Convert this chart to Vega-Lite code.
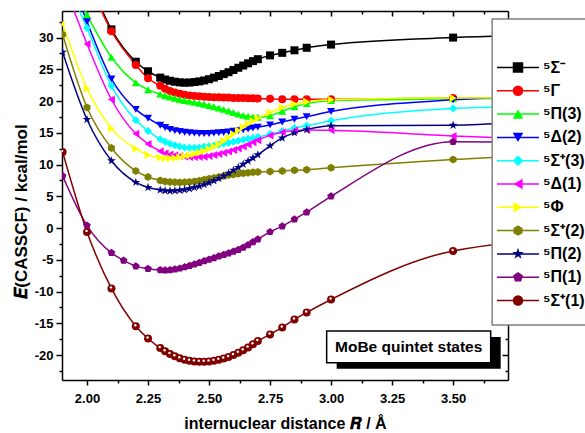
{
  "$schema": "https://vega.github.io/schema/vega-lite/v6.json",
  "width": 446,
  "height": 369,
  "autosize": {"type": "none"},
  "padding": {"left": 62, "top": 11, "right": 77, "bottom": 53},
  "background": "white",
  "config": {"view": {"stroke": null}, "font": "Liberation Sans", "axis": {"grid": false}},
  "data": {"values": [
    {"s":"⁵Σ⁻","R":2.0,"E":40.0},{"s":"⁵Σ⁻","R":2.1,"E":31.3},{"s":"⁵Σ⁻","R":2.2,"E":26.2},{"s":"⁵Σ⁻","R":2.25,"E":24.7},{"s":"⁵Σ⁻","R":2.3,"E":23.7},{"s":"⁵Σ⁻","R":2.32,"E":23.4},{"s":"⁵Σ⁻","R":2.34,"E":23.2},{"s":"⁵Σ⁻","R":2.36,"E":23.05},{"s":"⁵Σ⁻","R":2.38,"E":22.95},{"s":"⁵Σ⁻","R":2.4,"E":22.9},{"s":"⁵Σ⁻","R":2.42,"E":22.92},{"s":"⁵Σ⁻","R":2.44,"E":23.0},{"s":"⁵Σ⁻","R":2.46,"E":23.1},{"s":"⁵Σ⁻","R":2.48,"E":23.25},{"s":"⁵Σ⁻","R":2.5,"E":23.45},{"s":"⁵Σ⁻","R":2.52,"E":23.7},{"s":"⁵Σ⁻","R":2.54,"E":23.95},{"s":"⁵Σ⁻","R":2.56,"E":24.25},{"s":"⁵Σ⁻","R":2.58,"E":24.55},{"s":"⁵Σ⁻","R":2.6,"E":24.9},{"s":"⁵Σ⁻","R":2.62,"E":25.25},{"s":"⁵Σ⁻","R":2.64,"E":25.6},{"s":"⁵Σ⁻","R":2.66,"E":25.95},{"s":"⁵Σ⁻","R":2.68,"E":26.3},{"s":"⁵Σ⁻","R":2.7,"E":26.6},{"s":"⁵Σ⁻","R":2.75,"E":27.2},{"s":"⁵Σ⁻","R":2.8,"E":27.6},{"s":"⁵Σ⁻","R":2.85,"E":28.0},{"s":"⁵Σ⁻","R":2.9,"E":28.4},{"s":"⁵Σ⁻","R":3.0,"E":28.9},{"s":"⁵Σ⁻","R":3.5,"E":30.0},{"s":"⁵Σ⁻","R":4.0,"E":30.4},
    {"s":"⁵Γ","R":2.0,"E":39.5},{"s":"⁵Γ","R":2.1,"E":31.0},{"s":"⁵Γ","R":2.2,"E":25.7},{"s":"⁵Γ","R":2.25,"E":23.6},{"s":"⁵Γ","R":2.3,"E":22.4},{"s":"⁵Γ","R":2.32,"E":21.95},{"s":"⁵Γ","R":2.34,"E":21.6},{"s":"⁵Γ","R":2.36,"E":21.35},{"s":"⁵Γ","R":2.38,"E":21.15},{"s":"⁵Γ","R":2.4,"E":21.0},{"s":"⁵Γ","R":2.42,"E":20.9},{"s":"⁵Γ","R":2.44,"E":20.8},{"s":"⁵Γ","R":2.46,"E":20.75},{"s":"⁵Γ","R":2.48,"E":20.7},{"s":"⁵Γ","R":2.5,"E":20.65},{"s":"⁵Γ","R":2.52,"E":20.6},{"s":"⁵Γ","R":2.54,"E":20.6},{"s":"⁵Γ","R":2.56,"E":20.55},{"s":"⁵Γ","R":2.58,"E":20.55},{"s":"⁵Γ","R":2.6,"E":20.5},{"s":"⁵Γ","R":2.62,"E":20.5},{"s":"⁵Γ","R":2.64,"E":20.5},{"s":"⁵Γ","R":2.66,"E":20.45},{"s":"⁵Γ","R":2.68,"E":20.45},{"s":"⁵Γ","R":2.7,"E":20.4},{"s":"⁵Γ","R":2.75,"E":20.35},{"s":"⁵Γ","R":2.8,"E":20.3},{"s":"⁵Γ","R":2.85,"E":20.3},{"s":"⁵Γ","R":2.9,"E":20.3},{"s":"⁵Γ","R":3.0,"E":20.3},{"s":"⁵Γ","R":3.5,"E":20.5},{"s":"⁵Γ","R":4.0,"E":20.6},
    {"s":"⁵Π(3)","R":1.9,"E":41.5},{"s":"⁵Π(3)","R":2.0,"E":33.6},{"s":"⁵Π(3)","R":2.1,"E":26.9},{"s":"⁵Π(3)","R":2.2,"E":22.9},{"s":"⁵Π(3)","R":2.25,"E":21.8},{"s":"⁵Π(3)","R":2.3,"E":21.1},{"s":"⁵Π(3)","R":2.32,"E":20.85},{"s":"⁵Π(3)","R":2.34,"E":20.65},{"s":"⁵Π(3)","R":2.36,"E":20.45},{"s":"⁵Π(3)","R":2.38,"E":20.25},{"s":"⁵Π(3)","R":2.4,"E":20.1},{"s":"⁵Π(3)","R":2.42,"E":19.95},{"s":"⁵Π(3)","R":2.44,"E":19.8},{"s":"⁵Π(3)","R":2.46,"E":19.65},{"s":"⁵Π(3)","R":2.48,"E":19.5},{"s":"⁵Π(3)","R":2.5,"E":19.3},{"s":"⁵Π(3)","R":2.52,"E":19.1},{"s":"⁵Π(3)","R":2.54,"E":18.9},{"s":"⁵Π(3)","R":2.56,"E":18.7},{"s":"⁵Π(3)","R":2.58,"E":18.45},{"s":"⁵Π(3)","R":2.6,"E":18.2},{"s":"⁵Π(3)","R":2.62,"E":17.95},{"s":"⁵Π(3)","R":2.64,"E":17.75},{"s":"⁵Π(3)","R":2.66,"E":17.6},{"s":"⁵Π(3)","R":2.68,"E":17.5},{"s":"⁵Π(3)","R":2.7,"E":17.45},{"s":"⁵Π(3)","R":2.75,"E":17.7},{"s":"⁵Π(3)","R":2.8,"E":18.4},{"s":"⁵Π(3)","R":2.85,"E":19.1},{"s":"⁵Π(3)","R":2.9,"E":19.6},{"s":"⁵Π(3)","R":3.0,"E":20.1},{"s":"⁵Π(3)","R":3.5,"E":20.35},{"s":"⁵Π(3)","R":4.0,"E":20.5},
    {"s":"⁵Δ(2)","R":1.9,"E":43.0},{"s":"⁵Δ(2)","R":2.0,"E":32.5},{"s":"⁵Δ(2)","R":2.1,"E":23.5},{"s":"⁵Δ(2)","R":2.2,"E":18.7},{"s":"⁵Δ(2)","R":2.25,"E":17.3},{"s":"⁵Δ(2)","R":2.3,"E":16.2},{"s":"⁵Δ(2)","R":2.32,"E":15.85},{"s":"⁵Δ(2)","R":2.34,"E":15.55},{"s":"⁵Δ(2)","R":2.36,"E":15.35},{"s":"⁵Δ(2)","R":2.38,"E":15.2},{"s":"⁵Δ(2)","R":2.4,"E":15.1},{"s":"⁵Δ(2)","R":2.42,"E":15.0},{"s":"⁵Δ(2)","R":2.44,"E":14.95},{"s":"⁵Δ(2)","R":2.46,"E":14.9},{"s":"⁵Δ(2)","R":2.48,"E":14.9},{"s":"⁵Δ(2)","R":2.5,"E":14.9},{"s":"⁵Δ(2)","R":2.52,"E":14.95},{"s":"⁵Δ(2)","R":2.54,"E":15.0},{"s":"⁵Δ(2)","R":2.56,"E":15.05},{"s":"⁵Δ(2)","R":2.58,"E":15.15},{"s":"⁵Δ(2)","R":2.6,"E":15.25},{"s":"⁵Δ(2)","R":2.62,"E":15.35},{"s":"⁵Δ(2)","R":2.64,"E":15.5},{"s":"⁵Δ(2)","R":2.66,"E":15.6},{"s":"⁵Δ(2)","R":2.68,"E":15.75},{"s":"⁵Δ(2)","R":2.7,"E":15.9},{"s":"⁵Δ(2)","R":2.75,"E":16.25},{"s":"⁵Δ(2)","R":2.8,"E":16.7},{"s":"⁵Δ(2)","R":2.85,"E":17.15},{"s":"⁵Δ(2)","R":2.9,"E":17.55},{"s":"⁵Δ(2)","R":3.0,"E":18.35},{"s":"⁵Δ(2)","R":3.5,"E":20.2},{"s":"⁵Δ(2)","R":4.0,"E":20.9},
    {"s":"⁵Σ⁺(3)","R":1.9,"E":40.0},{"s":"⁵Σ⁺(3)","R":2.0,"E":31.5},{"s":"⁵Σ⁺(3)","R":2.1,"E":22.4},{"s":"⁵Σ⁺(3)","R":2.2,"E":17.0},{"s":"⁵Σ⁺(3)","R":2.25,"E":15.3},{"s":"⁵Σ⁺(3)","R":2.3,"E":14.0},{"s":"⁵Σ⁺(3)","R":2.32,"E":13.6},{"s":"⁵Σ⁺(3)","R":2.34,"E":13.3},{"s":"⁵Σ⁺(3)","R":2.36,"E":13.05},{"s":"⁵Σ⁺(3)","R":2.38,"E":12.85},{"s":"⁵Σ⁺(3)","R":2.4,"E":12.7},{"s":"⁵Σ⁺(3)","R":2.42,"E":12.65},{"s":"⁵Σ⁺(3)","R":2.44,"E":12.65},{"s":"⁵Σ⁺(3)","R":2.46,"E":12.7},{"s":"⁵Σ⁺(3)","R":2.48,"E":12.8},{"s":"⁵Σ⁺(3)","R":2.5,"E":12.9},{"s":"⁵Σ⁺(3)","R":2.52,"E":13.0},{"s":"⁵Σ⁺(3)","R":2.54,"E":13.15},{"s":"⁵Σ⁺(3)","R":2.56,"E":13.3},{"s":"⁵Σ⁺(3)","R":2.58,"E":13.45},{"s":"⁵Σ⁺(3)","R":2.6,"E":13.6},{"s":"⁵Σ⁺(3)","R":2.62,"E":13.75},{"s":"⁵Σ⁺(3)","R":2.64,"E":13.9},{"s":"⁵Σ⁺(3)","R":2.66,"E":14.05},{"s":"⁵Σ⁺(3)","R":2.68,"E":14.2},{"s":"⁵Σ⁺(3)","R":2.7,"E":14.35},{"s":"⁵Σ⁺(3)","R":2.75,"E":14.8},{"s":"⁵Σ⁺(3)","R":2.8,"E":15.3},{"s":"⁵Σ⁺(3)","R":2.85,"E":15.75},{"s":"⁵Σ⁺(3)","R":2.9,"E":16.1},{"s":"⁵Σ⁺(3)","R":3.0,"E":16.9},{"s":"⁵Σ⁺(3)","R":3.5,"E":18.85},{"s":"⁵Σ⁺(3)","R":4.0,"E":19.3},
    {"s":"⁵Δ(1)","R":1.9,"E":39.0},{"s":"⁵Δ(1)","R":2.0,"E":29.0},{"s":"⁵Δ(1)","R":2.1,"E":20.25},{"s":"⁵Δ(1)","R":2.2,"E":14.85},{"s":"⁵Δ(1)","R":2.25,"E":13.25},{"s":"⁵Δ(1)","R":2.3,"E":12.1},{"s":"⁵Δ(1)","R":2.32,"E":11.8},{"s":"⁵Δ(1)","R":2.34,"E":11.6},{"s":"⁵Δ(1)","R":2.36,"E":11.45},{"s":"⁵Δ(1)","R":2.38,"E":11.35},{"s":"⁵Δ(1)","R":2.4,"E":11.25},{"s":"⁵Δ(1)","R":2.42,"E":11.2},{"s":"⁵Δ(1)","R":2.44,"E":11.2},{"s":"⁵Δ(1)","R":2.46,"E":11.2},{"s":"⁵Δ(1)","R":2.48,"E":11.25},{"s":"⁵Δ(1)","R":2.5,"E":11.35},{"s":"⁵Δ(1)","R":2.52,"E":11.5},{"s":"⁵Δ(1)","R":2.54,"E":11.65},{"s":"⁵Δ(1)","R":2.56,"E":11.85},{"s":"⁵Δ(1)","R":2.58,"E":12.05},{"s":"⁵Δ(1)","R":2.6,"E":12.3},{"s":"⁵Δ(1)","R":2.62,"E":12.55},{"s":"⁵Δ(1)","R":2.64,"E":12.85},{"s":"⁵Δ(1)","R":2.66,"E":13.15},{"s":"⁵Δ(1)","R":2.68,"E":13.5},{"s":"⁵Δ(1)","R":2.7,"E":13.85},{"s":"⁵Δ(1)","R":2.75,"E":14.6},{"s":"⁵Δ(1)","R":2.8,"E":15.1},{"s":"⁵Δ(1)","R":2.85,"E":15.35},{"s":"⁵Δ(1)","R":2.9,"E":15.45},{"s":"⁵Δ(1)","R":3.0,"E":15.4},{"s":"⁵Δ(1)","R":3.5,"E":14.5},{"s":"⁵Δ(1)","R":4.0,"E":13.8},
    {"s":"⁵Φ","R":1.9,"E":32.2},{"s":"⁵Φ","R":2.0,"E":22.0},{"s":"⁵Φ","R":2.1,"E":15.7},{"s":"⁵Φ","R":2.2,"E":12.5},{"s":"⁵Φ","R":2.25,"E":11.5},{"s":"⁵Φ","R":2.3,"E":11.1},{"s":"⁵Φ","R":2.32,"E":11.0},{"s":"⁵Φ","R":2.34,"E":11.0},{"s":"⁵Φ","R":2.36,"E":11.05},{"s":"⁵Φ","R":2.38,"E":11.15},{"s":"⁵Φ","R":2.4,"E":11.3},{"s":"⁵Φ","R":2.42,"E":11.45},{"s":"⁵Φ","R":2.44,"E":11.65},{"s":"⁵Φ","R":2.46,"E":11.9},{"s":"⁵Φ","R":2.48,"E":12.15},{"s":"⁵Φ","R":2.5,"E":12.45},{"s":"⁵Φ","R":2.52,"E":12.8},{"s":"⁵Φ","R":2.54,"E":13.2},{"s":"⁵Φ","R":2.56,"E":13.7},{"s":"⁵Φ","R":2.58,"E":14.25},{"s":"⁵Φ","R":2.6,"E":14.8},{"s":"⁵Φ","R":2.62,"E":15.35},{"s":"⁵Φ","R":2.64,"E":15.9},{"s":"⁵Φ","R":2.66,"E":16.4},{"s":"⁵Φ","R":2.68,"E":16.85},{"s":"⁵Φ","R":2.7,"E":17.3},{"s":"⁵Φ","R":2.75,"E":18.2},{"s":"⁵Φ","R":2.8,"E":19.0},{"s":"⁵Φ","R":2.85,"E":19.55},{"s":"⁵Φ","R":2.9,"E":19.9},{"s":"⁵Φ","R":3.0,"E":20.2},{"s":"⁵Φ","R":3.5,"E":20.5},{"s":"⁵Φ","R":4.0,"E":20.6},
    {"s":"⁵Σ⁺(2)","R":1.9,"E":30.5},{"s":"⁵Σ⁺(2)","R":2.0,"E":19.0},{"s":"⁵Σ⁺(2)","R":2.1,"E":12.6},{"s":"⁵Σ⁺(2)","R":2.2,"E":9.0},{"s":"⁵Σ⁺(2)","R":2.25,"E":8.05},{"s":"⁵Σ⁺(2)","R":2.3,"E":7.5},{"s":"⁵Σ⁺(2)","R":2.32,"E":7.35},{"s":"⁵Σ⁺(2)","R":2.34,"E":7.25},{"s":"⁵Σ⁺(2)","R":2.36,"E":7.2},{"s":"⁵Σ⁺(2)","R":2.38,"E":7.18},{"s":"⁵Σ⁺(2)","R":2.4,"E":7.2},{"s":"⁵Σ⁺(2)","R":2.42,"E":7.25},{"s":"⁵Σ⁺(2)","R":2.44,"E":7.35},{"s":"⁵Σ⁺(2)","R":2.46,"E":7.45},{"s":"⁵Σ⁺(2)","R":2.48,"E":7.6},{"s":"⁵Σ⁺(2)","R":2.5,"E":7.75},{"s":"⁵Σ⁺(2)","R":2.52,"E":7.9},{"s":"⁵Σ⁺(2)","R":2.54,"E":8.05},{"s":"⁵Σ⁺(2)","R":2.56,"E":8.2},{"s":"⁵Σ⁺(2)","R":2.58,"E":8.35},{"s":"⁵Σ⁺(2)","R":2.6,"E":8.45},{"s":"⁵Σ⁺(2)","R":2.62,"E":8.55},{"s":"⁵Σ⁺(2)","R":2.64,"E":8.65},{"s":"⁵Σ⁺(2)","R":2.66,"E":8.72},{"s":"⁵Σ⁺(2)","R":2.68,"E":8.78},{"s":"⁵Σ⁺(2)","R":2.7,"E":8.83},{"s":"⁵Σ⁺(2)","R":2.75,"E":8.9},{"s":"⁵Σ⁺(2)","R":2.8,"E":9.0},{"s":"⁵Σ⁺(2)","R":2.85,"E":9.1},{"s":"⁵Σ⁺(2)","R":2.9,"E":9.2},{"s":"⁵Σ⁺(2)","R":3.0,"E":9.5},{"s":"⁵Σ⁺(2)","R":3.5,"E":10.8},{"s":"⁵Σ⁺(2)","R":4.0,"E":11.7},
    {"s":"⁵Π(2)","R":1.9,"E":27.7},{"s":"⁵Π(2)","R":2.0,"E":17.1},{"s":"⁵Π(2)","R":2.1,"E":10.6},{"s":"⁵Π(2)","R":2.2,"E":7.2},{"s":"⁵Π(2)","R":2.25,"E":6.4},{"s":"⁵Π(2)","R":2.3,"E":6.0},{"s":"⁵Π(2)","R":2.32,"E":5.88},{"s":"⁵Π(2)","R":2.34,"E":5.85},{"s":"⁵Π(2)","R":2.36,"E":5.88},{"s":"⁵Π(2)","R":2.38,"E":5.95},{"s":"⁵Π(2)","R":2.4,"E":6.05},{"s":"⁵Π(2)","R":2.42,"E":6.2},{"s":"⁵Π(2)","R":2.44,"E":6.4},{"s":"⁵Π(2)","R":2.46,"E":6.6},{"s":"⁵Π(2)","R":2.48,"E":6.85},{"s":"⁵Π(2)","R":2.5,"E":7.15},{"s":"⁵Π(2)","R":2.52,"E":7.45},{"s":"⁵Π(2)","R":2.54,"E":7.8},{"s":"⁵Π(2)","R":2.56,"E":8.2},{"s":"⁵Π(2)","R":2.58,"E":8.65},{"s":"⁵Π(2)","R":2.6,"E":9.1},{"s":"⁵Π(2)","R":2.62,"E":9.55},{"s":"⁵Π(2)","R":2.64,"E":10.05},{"s":"⁵Π(2)","R":2.66,"E":10.55},{"s":"⁵Π(2)","R":2.68,"E":11.05},{"s":"⁵Π(2)","R":2.7,"E":11.55},{"s":"⁵Π(2)","R":2.75,"E":12.95},{"s":"⁵Π(2)","R":2.8,"E":14.2},{"s":"⁵Π(2)","R":2.85,"E":15.0},{"s":"⁵Π(2)","R":2.9,"E":15.5},{"s":"⁵Π(2)","R":3.0,"E":16.1},{"s":"⁵Π(2)","R":3.5,"E":16.2},{"s":"⁵Π(2)","R":4.0,"E":17.4},
    {"s":"⁵Π(1)","R":1.9,"E":8.2},{"s":"⁵Π(1)","R":2.0,"E":0.4},{"s":"⁵Π(1)","R":2.1,"E":-3.9},{"s":"⁵Π(1)","R":2.15,"E":-5.1},{"s":"⁵Π(1)","R":2.2,"E":-6.0},{"s":"⁵Π(1)","R":2.25,"E":-6.4},{"s":"⁵Π(1)","R":2.3,"E":-6.6},{"s":"⁵Π(1)","R":2.32,"E":-6.65},{"s":"⁵Π(1)","R":2.34,"E":-6.6},{"s":"⁵Π(1)","R":2.36,"E":-6.5},{"s":"⁵Π(1)","R":2.38,"E":-6.35},{"s":"⁵Π(1)","R":2.4,"E":-6.15},{"s":"⁵Π(1)","R":2.42,"E":-5.95},{"s":"⁵Π(1)","R":2.44,"E":-5.7},{"s":"⁵Π(1)","R":2.46,"E":-5.45},{"s":"⁵Π(1)","R":2.48,"E":-5.2},{"s":"⁵Π(1)","R":2.5,"E":-4.95},{"s":"⁵Π(1)","R":2.52,"E":-4.7},{"s":"⁵Π(1)","R":2.54,"E":-4.45},{"s":"⁵Π(1)","R":2.56,"E":-4.2},{"s":"⁵Π(1)","R":2.58,"E":-3.95},{"s":"⁵Π(1)","R":2.6,"E":-3.7},{"s":"⁵Π(1)","R":2.62,"E":-3.4},{"s":"⁵Π(1)","R":2.64,"E":-3.05},{"s":"⁵Π(1)","R":2.66,"E":-2.65},{"s":"⁵Π(1)","R":2.68,"E":-2.2},{"s":"⁵Π(1)","R":2.7,"E":-1.75},{"s":"⁵Π(1)","R":2.75,"E":-0.6},{"s":"⁵Π(1)","R":2.8,"E":0.3},{"s":"⁵Π(1)","R":2.85,"E":1.4},{"s":"⁵Π(1)","R":2.9,"E":2.5},{"s":"⁵Π(1)","R":3.0,"E":5.0},{"s":"⁵Π(1)","R":3.5,"E":13.6},{"s":"⁵Π(1)","R":4.0,"E":13.4},
    {"s":"⁵Σ⁺(1)","R":1.9,"E":12.0},{"s":"⁵Σ⁺(1)","R":2.0,"E":-0.6},{"s":"⁵Σ⁺(1)","R":2.1,"E":-9.5},{"s":"⁵Σ⁺(1)","R":2.2,"E":-15.45},{"s":"⁵Σ⁺(1)","R":2.25,"E":-17.4},{"s":"⁵Σ⁺(1)","R":2.3,"E":-18.9},{"s":"⁵Σ⁺(1)","R":2.32,"E":-19.4},{"s":"⁵Σ⁺(1)","R":2.34,"E":-19.85},{"s":"⁵Σ⁺(1)","R":2.36,"E":-20.2},{"s":"⁵Σ⁺(1)","R":2.38,"E":-20.5},{"s":"⁵Σ⁺(1)","R":2.4,"E":-20.75},{"s":"⁵Σ⁺(1)","R":2.42,"E":-20.9},{"s":"⁵Σ⁺(1)","R":2.44,"E":-21.0},{"s":"⁵Σ⁺(1)","R":2.46,"E":-21.05},{"s":"⁵Σ⁺(1)","R":2.48,"E":-21.05},{"s":"⁵Σ⁺(1)","R":2.5,"E":-21.0},{"s":"⁵Σ⁺(1)","R":2.52,"E":-20.9},{"s":"⁵Σ⁺(1)","R":2.54,"E":-20.75},{"s":"⁵Σ⁺(1)","R":2.56,"E":-20.55},{"s":"⁵Σ⁺(1)","R":2.58,"E":-20.3},{"s":"⁵Σ⁺(1)","R":2.6,"E":-20.0},{"s":"⁵Σ⁺(1)","R":2.62,"E":-19.65},{"s":"⁵Σ⁺(1)","R":2.64,"E":-19.25},{"s":"⁵Σ⁺(1)","R":2.66,"E":-18.8},{"s":"⁵Σ⁺(1)","R":2.68,"E":-18.3},{"s":"⁵Σ⁺(1)","R":2.7,"E":-17.8},{"s":"⁵Σ⁺(1)","R":2.75,"E":-16.75},{"s":"⁵Σ⁺(1)","R":2.8,"E":-15.65},{"s":"⁵Σ⁺(1)","R":2.85,"E":-14.4},{"s":"⁵Σ⁺(1)","R":2.9,"E":-13.3},{"s":"⁵Σ⁺(1)","R":3.0,"E":-11.25},{"s":"⁵Σ⁺(1)","R":3.5,"E":-3.6},{"s":"⁵Σ⁺(1)","R":4.0,"E":-1.7}
  ]},
  "layer": [
    {
      "mark": {"type": "line", "interpolate": "monotone", "strokeWidth": 1.5, "clip": true},
      "encoding": {
        "x": {
          "field": "R", "type": "quantitative",
          "scale": {"domain": [1.8975, 3.725], "nice": false, "zero": false},
          "axis": {
            "orient": "bottom",
            "values": [2.0, 2.125, 2.25, 2.375, 2.5, 2.625, 2.75, 2.875, 3.0, 3.125, 3.25, 3.375, 3.5, 3.625],
            "labelExpr": "abs(datum.value*4 - round(datum.value*4)) < 0.001 ? format(datum.value, '.2f') : ''",
            "tickSize": {"condition": {"test": "abs(datum.value*4 - round(datum.value*4)) < 0.001", "value": 5}, "value": 3},
            "tickWidth": 1.5, "tickColor": "black",
            "domainColor": "black", "domainWidth": 1.5,
            "labelFont": "Liberation Sans", "labelFontSize": 13, "labelFontWeight": "bold", "labelColor": "black",
            "labelPadding": 7, "labelFlush": false, "labelOverlap": false,
            "title": "internuclear distance 𝑹 / Å",
            "titleFont": "Liberation Sans", "titleFontSize": 16, "titleFontWeight": "bold", "titleColor": "black",
            "titlePadding": 10
          }
        },
        "y": {
          "field": "E", "type": "quantitative",
          "scale": {"domain": [-23.93, 34.19], "nice": false, "zero": false},
          "axis": {
            "orient": "left",
            "values": [-22.5, -20, -17.5, -15, -12.5, -10, -7.5, -5, -2.5, 0, 2.5, 5, 7.5, 10, 12.5, 15, 17.5, 20, 22.5, 25, 27.5, 30, 32.5],
            "labelExpr": "abs(datum.value/5 - round(datum.value/5)) < 0.001 ? replace(format(datum.value, 'd'), '−', '-') : ''",
            "tickSize": {"condition": {"test": "abs(datum.value/5 - round(datum.value/5)) < 0.001", "value": 6}, "value": 3},
            "tickWidth": 1.5, "tickColor": "black",
            "domainColor": "black", "domainWidth": 1.5,
            "labelFont": "Liberation Sans", "labelFontSize": 13, "labelFontWeight": "bold", "labelColor": "black",
            "labelPadding": 3, "labelFlush": false, "labelOverlap": false,
            "title": "𝑬(CASSCF) / kcal/mol",
            "titleFont": "Liberation Sans", "titleFontSize": 17, "titleFontWeight": "bold", "titleColor": "black",
            "titlePadding": 4, "titleY": 200
          }
        },
        "stroke": {
          "field": "s", "type": "nominal",
          "scale": {
            "domain": ["⁵Σ⁻", "⁵Γ", "⁵Π(3)", "⁵Δ(2)", "⁵Σ⁺(3)", "⁵Δ(1)", "⁵Φ", "⁵Σ⁺(2)", "⁵Π(2)", "⁵Π(1)", "⁵Σ⁺(1)"],
            "range": ["#000000", "#ff0000", "#00ff00", "#0000ff", "#00ffff", "#ff00ff", "#ffff00", "#808000", "#000080", "#800080", "#800000"]
          },
          "legend": {
            "title": null, "orient": "none", "legendX": 434, "legendY": 48.5,
            "padding": 0, "rowPadding": 7.3,
            "symbolType": "M-3.5,0L3.5,0", "symbolSize": 144, "symbolStrokeWidth": 1.5, "symbolOffset": 14,
            "labelOffset": 17, "labelFont": "Liberation Sans", "labelFontSize": 16, "labelFontWeight": "bold", "labelColor": "black",
            "labelLimit": 200
          }
        },
        "order": {"field": "R", "type": "quantitative"}
      }
    },
    {
      "mark": {"type": "point", "filled": true, "opacity": 1, "size": 64, "strokeWidth": 0, "clip": true},
      "encoding": {
        "x": {
          "field": "R", "type": "quantitative",
          "axis": {
            "orient": "top",
            "values": [2.0, 2.125, 2.25, 2.375, 2.5, 2.625, 2.75, 2.875, 3.0, 3.125, 3.25, 3.375, 3.5, 3.625],
            "labels": false, "title": null,
            "tickSize": {"condition": {"test": "abs(datum.value*4 - round(datum.value*4)) < 0.001", "value": -5}, "value": -3},
            "tickWidth": 1.5, "tickColor": "black",
            "domainColor": "black", "domainWidth": 1.5
          }
        },
        "y": {
          "field": "E", "type": "quantitative",
          "axis": {
            "orient": "right",
            "values": [-22.5, -20, -17.5, -15, -12.5, -10, -7.5, -5, -2.5, 0, 2.5, 5, 7.5, 10, 12.5, 15, 17.5, 20, 22.5, 25, 27.5, 30, 32.5],
            "labels": false, "title": null,
            "tickSize": {"condition": {"test": "abs(datum.value/5 - round(datum.value/5)) < 0.001", "value": -6}, "value": -3},
            "tickWidth": 1.5, "tickColor": "black",
            "domainColor": "black", "domainWidth": 1.5
          }
        },
        "color": {
          "field": "s", "type": "nominal",
          "scale": {
            "domain": ["⁵Σ⁻", "⁵Γ", "⁵Π(3)", "⁵Δ(2)", "⁵Σ⁺(3)", "⁵Δ(1)", "⁵Φ", "⁵Σ⁺(2)", "⁵Π(2)", "⁵Π(1)", "⁵Σ⁺(1)"],
            "range": ["#000000", "#ff0000", "#00ff00", "#0000ff", "#00ffff", "#ff00ff", "#ffff00", "#808000", "#000080", "#800080", "#800000"]
          },
          "legend": {
            "title": null, "orient": "none", "legendX": 434, "legendY": 48.5,
            "padding": 0, "rowPadding": 7.3,
            "symbolSize": 110, "symbolStrokeWidth": 0, "symbolOffset": 14,
            "labelOffset": 17, "labelFont": "Liberation Sans", "labelFontSize": 16, "labelFontWeight": "bold", "labelOpacity": 0,
            "labelLimit": 200
          }
        },
        "shape": {
          "field": "s", "type": "nominal",
          "scale": {
            "domain": ["⁵Σ⁻", "⁵Γ", "⁵Π(3)", "⁵Δ(2)", "⁵Σ⁺(3)", "⁵Δ(1)", "⁵Φ", "⁵Σ⁺(2)", "⁵Π(2)", "⁵Π(1)", "⁵Σ⁺(1)"],
            "range": [
              "square", "circle", "triangle-up", "triangle-down", "diamond", "triangle-left", "triangle-right",
              "M0,-1L0.87,-0.5L0.87,0.5L0,1L-0.87,0.5L-0.87,-0.5Z",
              "M0,-1.15L0.26,-0.36L1.1,-0.36L0.42,0.14L0.68,0.93L0,0.44L-0.68,0.93L-0.42,0.14L-1.1,-0.36L-0.26,-0.36Z",
              "M0,-1L0.951,-0.309L0.588,0.809L-0.588,0.809L-0.951,-0.309Z",
              "circle"
            ]
          },
          "legend": {
            "title": null, "orient": "none", "legendX": 434, "legendY": 48.5,
            "padding": 0, "rowPadding": 7.3,
            "symbolSize": 110, "symbolStrokeWidth": 0, "symbolOffset": 14,
            "labelOffset": 17, "labelFont": "Liberation Sans", "labelFontSize": 16, "labelFontWeight": "bold", "labelOpacity": 0,
            "labelLimit": 200
          }
        }
      }
    },
    {
      "transform": [{"filter": {"field": "s", "equal": "⁵Σ⁺(1)"}}],
      "mark": {"type": "point", "shape": "circle", "filled": true, "opacity": 1, "size": 6, "color": "white", "xOffset": -0.5, "yOffset": -1, "clip": true},
      "encoding": {
        "x": {"field": "R", "type": "quantitative", "axis": null},
        "y": {"field": "E", "type": "quantitative", "axis": null}
      }
    },
    {
      "data": {"values": [{}]},
      "mark": {"type": "rect", "fill": "white", "stroke": "#808080", "strokeWidth": 1.5},
      "encoding": {
        "x": {"datum": 3.66, "type": "quantitative", "axis": null},
        "x2": {"datum": 4.4},
        "y": {"datum": 32.93, "type": "quantitative", "axis": null},
        "y2": {"datum": -15.27}
      }
    },
    {
      "data": {"values": [{}]},
      "mark": {"type": "rect", "fill": "black", "xOffset": 10, "x2Offset": 10, "yOffset": 6, "y2Offset": 6},
      "encoding": {
        "x": {"datum": 2.982, "type": "quantitative", "axis": null},
        "x2": {"datum": 3.654},
        "y": {"datum": -16.21, "type": "quantitative", "axis": null},
        "y2": {"datum": -21.2}
      }
    },
    {
      "data": {"values": [{}]},
      "mark": {"type": "rect", "fill": "white", "stroke": "black", "strokeWidth": 1.5},
      "encoding": {
        "x": {"datum": 2.982, "type": "quantitative", "axis": null},
        "x2": {"datum": 3.654},
        "y": {"datum": -16.21, "type": "quantitative", "axis": null},
        "y2": {"datum": -21.2}
      }
    },
    {
      "data": {"values": [{"label": "MoBe quintet states"}]},
      "mark": {"type": "text", "font": "Liberation Sans", "fontSize": 15.5, "fontWeight": "bold", "color": "black", "align": "center", "baseline": "middle"},
      "encoding": {
        "x": {"datum": 3.318, "type": "quantitative", "axis": null},
        "y": {"datum": -18.73, "type": "quantitative", "axis": null},
        "text": {"field": "label"}
      }
    }
  ],
  "resolve": {
    "axis": {"x": "independent", "y": "independent"},
    "scale": {"color": "independent", "stroke": "independent", "shape": "independent"}
  }
}
